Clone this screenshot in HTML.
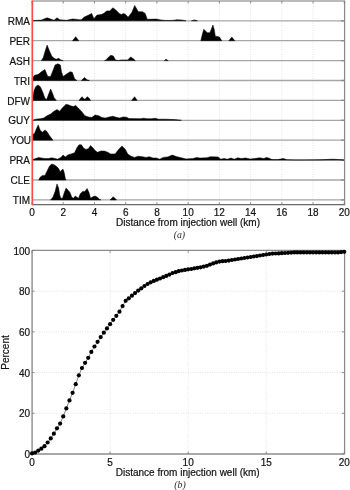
<!DOCTYPE html><html><head><meta charset="utf-8"><style>html,body{margin:0;padding:0;background:#fff;width:350px;height:490px;overflow:hidden}svg{display:block;will-change:transform}</style></head><body>
<svg width="350" height="490" viewBox="0 0 350 490">
<line x1="63.23" y1="1.0" x2="63.23" y2="204.6" stroke="#dcdcdc" stroke-width="0.8" stroke-dasharray="1 1.4"/>
<line x1="94.46" y1="1.0" x2="94.46" y2="204.6" stroke="#dcdcdc" stroke-width="0.8" stroke-dasharray="1 1.4"/>
<line x1="125.69" y1="1.0" x2="125.69" y2="204.6" stroke="#dcdcdc" stroke-width="0.8" stroke-dasharray="1 1.4"/>
<line x1="156.92" y1="1.0" x2="156.92" y2="204.6" stroke="#dcdcdc" stroke-width="0.8" stroke-dasharray="1 1.4"/>
<line x1="188.15" y1="1.0" x2="188.15" y2="204.6" stroke="#dcdcdc" stroke-width="0.8" stroke-dasharray="1 1.4"/>
<line x1="219.38" y1="1.0" x2="219.38" y2="204.6" stroke="#dcdcdc" stroke-width="0.8" stroke-dasharray="1 1.4"/>
<line x1="250.61" y1="1.0" x2="250.61" y2="204.6" stroke="#dcdcdc" stroke-width="0.8" stroke-dasharray="1 1.4"/>
<line x1="281.84" y1="1.0" x2="281.84" y2="204.6" stroke="#dcdcdc" stroke-width="0.8" stroke-dasharray="1 1.4"/>
<line x1="313.07" y1="1.0" x2="313.07" y2="204.6" stroke="#dcdcdc" stroke-width="0.8" stroke-dasharray="1 1.4"/>
<line x1="32.0" y1="20.80" x2="344.6" y2="20.80" stroke="#a6a6a6" stroke-width="1.3"/>
<line x1="341.1" y1="20.80" x2="344.6" y2="20.80" stroke="#8a8a8a" stroke-width="1.3"/>
<line x1="32.0" y1="40.70" x2="344.6" y2="40.70" stroke="#a6a6a6" stroke-width="1.3"/>
<line x1="341.1" y1="40.70" x2="344.6" y2="40.70" stroke="#8a8a8a" stroke-width="1.3"/>
<line x1="32.0" y1="60.60" x2="344.6" y2="60.60" stroke="#a6a6a6" stroke-width="1.3"/>
<line x1="341.1" y1="60.60" x2="344.6" y2="60.60" stroke="#8a8a8a" stroke-width="1.3"/>
<line x1="32.0" y1="80.50" x2="344.6" y2="80.50" stroke="#a6a6a6" stroke-width="1.3"/>
<line x1="341.1" y1="80.50" x2="344.6" y2="80.50" stroke="#8a8a8a" stroke-width="1.3"/>
<line x1="32.0" y1="100.40" x2="344.6" y2="100.40" stroke="#a6a6a6" stroke-width="1.3"/>
<line x1="341.1" y1="100.40" x2="344.6" y2="100.40" stroke="#8a8a8a" stroke-width="1.3"/>
<line x1="32.0" y1="120.30" x2="344.6" y2="120.30" stroke="#a6a6a6" stroke-width="1.3"/>
<line x1="341.1" y1="120.30" x2="344.6" y2="120.30" stroke="#8a8a8a" stroke-width="1.3"/>
<line x1="32.0" y1="140.20" x2="344.6" y2="140.20" stroke="#a6a6a6" stroke-width="1.3"/>
<line x1="341.1" y1="140.20" x2="344.6" y2="140.20" stroke="#8a8a8a" stroke-width="1.3"/>
<line x1="32.0" y1="160.10" x2="344.6" y2="160.10" stroke="#a6a6a6" stroke-width="1.3"/>
<line x1="341.1" y1="160.10" x2="344.6" y2="160.10" stroke="#8a8a8a" stroke-width="1.3"/>
<line x1="32.0" y1="180.00" x2="344.6" y2="180.00" stroke="#a6a6a6" stroke-width="1.3"/>
<line x1="341.1" y1="180.00" x2="344.6" y2="180.00" stroke="#8a8a8a" stroke-width="1.3"/>
<line x1="32.0" y1="199.90" x2="344.6" y2="199.90" stroke="#a6a6a6" stroke-width="1.3"/>
<line x1="341.1" y1="199.90" x2="344.6" y2="199.90" stroke="#8a8a8a" stroke-width="1.3"/>
<path d="M32.3,20.80 L32.3,20.80 L36.9,20.30 L41.4,20.10 L47.1,17.80 L50.6,19.00 L54.0,20.30 L57.0,17.80 L59.7,19.70 L66.6,20.30 L72.3,19.00 L75.7,19.20 L79.1,19.70 L81.2,19.70 L84.3,17.00 L88.6,15.10 L91.7,13.40 L93.9,18.70 L97.0,15.10 L101.3,14.50 L104.4,13.00 L106.5,10.90 L109.7,10.90 L112.9,7.70 L116.1,10.20 L119.2,13.40 L121.3,14.50 L123.5,13.40 L125.6,14.50 L128.1,17.20 L131.9,12.30 L134.7,5.40 L138.3,11.70 L142.5,11.70 L145.2,13.40 L147.3,19.30 L156.3,19.10 L160.9,19.90 L165.4,20.40 L172.3,20.40 L176.9,19.70 L181.4,19.90 L186.0,20.80 L186.0,20.80Z M191.5,20.80 L191.5,20.80 L194.5,19.90 L197.5,20.80 L197.5,20.80Z " fill="#000" stroke="#000" stroke-width="0.5" stroke-linejoin="round"/>
<path d="M72.5,40.70 L72.5,40.70 L75.7,36.70 L78.8,40.70 L78.8,40.70Z M200.8,40.70 L200.8,40.70 L202.2,34.70 L203.8,29.30 L205.7,31.20 L207.5,32.70 L209.8,32.70 L211.3,29.20 L212.9,25.00 L214.3,29.70 L215.3,36.20 L217.5,36.50 L219.4,36.90 L220.5,38.70 L221.8,40.70 L221.8,40.70Z M228.8,40.70 L228.8,40.70 L231.8,37.10 L234.8,40.70 L234.8,40.70Z " fill="#000" stroke="#000" stroke-width="0.5" stroke-linejoin="round"/>
<path d="M41.4,60.60 L41.4,60.60 L43.3,57.60 L44.9,51.90 L47.1,45.10 L49.4,50.80 L51.7,56.00 L54.0,58.30 L56.3,59.20 L58.6,58.30 L60.9,59.90 L63.1,60.60 L63.1,60.60Z M104.5,60.60 L104.5,60.60 L106.0,59.90 L108.7,56.90 L111.0,55.30 L113.3,56.00 L115.6,59.90 L118.6,60.60 L120.9,59.90 L127.7,59.90 L130.7,56.90 L133.4,58.80 L135.3,60.60 L135.3,60.60Z M164.3,60.60 L164.3,60.60 L165.9,59.20 L168.2,60.60 L168.2,60.60Z " fill="#000" stroke="#000" stroke-width="0.5" stroke-linejoin="round"/>
<path d="M32.3,80.50 L32.3,78.00 L32.7,77.50 L34.6,75.20 L38.0,74.60 L41.4,71.80 L44.9,69.50 L47.8,76.40 L50.6,76.40 L52.9,70.70 L55.1,65.00 L57.9,63.80 L60.4,65.00 L61.5,71.80 L63.1,76.40 L66.6,74.10 L70.0,71.80 L72.3,72.30 L74.6,78.70 L76.9,80.50 L76.9,80.50Z M81.4,80.50 L81.4,80.50 L84.4,77.50 L87.1,79.80 L89.4,80.50 L89.4,80.50Z " fill="#000" stroke="#000" stroke-width="0.5" stroke-linejoin="round"/>
<path d="M32.3,100.40 L32.3,99.40 L32.7,97.40 L34.1,90.60 L35.7,86.70 L38.0,84.90 L40.3,86.70 L42.6,91.70 L44.9,98.10 L46.5,99.70 L47.8,96.30 L50.6,89.00 L52.4,92.90 L54.0,97.40 L56.3,100.40 L56.3,100.40Z M79.1,100.40 L79.1,100.40 L80.7,98.10 L82.1,96.70 L83.9,99.00 L85.3,99.00 L87.1,96.70 L89.0,98.10 L90.6,100.40 L90.6,100.40Z M131.6,100.40 L131.6,100.40 L134.6,96.70 L137.2,100.40 L137.2,100.40Z " fill="#000" stroke="#000" stroke-width="0.5" stroke-linejoin="round"/>
<path d="M32.7,120.30 L32.7,120.30 L35.7,119.20 L40.3,118.70 L43.7,118.00 L47.1,115.70 L50.6,114.10 L54.0,111.20 L57.0,109.60 L59.7,111.20 L62.5,107.70 L66.1,104.30 L68.9,105.00 L71.1,105.90 L73.4,106.60 L75.7,105.40 L78.5,108.20 L81.4,111.20 L84.9,115.70 L88.3,116.90 L91.7,117.60 L95.1,115.00 L98.6,115.70 L102.0,117.60 L105.4,118.00 L109.4,116.90 L112.9,116.20 L116.3,117.30 L119.7,118.00 L123.1,116.90 L126.6,117.30 L128.9,118.50 L140.3,118.70 L143.7,118.20 L147.1,118.70 L151.7,118.70 L155.1,118.20 L158.6,119.20 L165.4,119.20 L174.6,119.60 L181.4,120.30 L181.4,120.30Z " fill="#000" stroke="#000" stroke-width="0.5" stroke-linejoin="round"/>
<path d="M32.3,140.20 L32.3,134.70 L32.7,134.50 L34.6,133.30 L36.4,128.80 L38.2,124.90 L40.3,130.40 L42.6,132.20 L44.9,129.90 L47.1,131.70 L49.4,135.60 L51.7,138.60 L52.9,140.20 L52.9,140.20Z " fill="#000" stroke="#000" stroke-width="0.5" stroke-linejoin="round"/>
<path d="M32.7,160.10 L32.7,159.60 L35.7,158.50 L38.7,157.40 L41.4,158.00 L44.9,158.50 L48.3,158.50 L51.7,157.80 L55.1,158.50 L57.4,159.20 L60.9,157.40 L63.1,155.10 L65.4,156.90 L67.7,155.10 L71.1,153.90 L74.6,152.80 L76.9,147.80 L79.1,144.80 L81.4,144.80 L83.7,148.20 L86.0,149.40 L88.3,148.70 L90.6,145.50 L92.9,147.80 L95.1,150.50 L97.4,152.30 L100.9,151.00 L104.3,151.00 L107.7,152.30 L110.6,153.90 L115.1,153.90 L118.6,149.40 L122.0,145.90 L125.4,149.40 L127.7,153.90 L131.1,156.20 L134.6,157.40 L138.0,156.20 L142.6,156.70 L146.0,157.40 L149.4,156.70 L152.9,158.00 L156.3,158.00 L159.7,159.20 L163.1,157.40 L167.7,156.90 L172.3,155.10 L176.9,156.70 L181.4,157.80 L186.0,158.90 L193.1,158.50 L196.6,157.40 L200.0,158.00 L206.9,157.80 L210.3,156.70 L218.3,156.90 L220.6,159.20 L224.0,158.50 L227.4,159.20 L230.9,158.00 L234.3,159.20 L237.7,157.80 L241.1,158.50 L245.7,158.00 L250.3,159.00 L254.9,158.50 L259.4,157.80 L264.0,158.50 L266.3,157.40 L268.6,158.00 L272.0,159.60 L277.7,159.60 L283.4,158.50 L286.9,159.70 L295.0,159.90 L305.1,159.90 L320.0,159.80 L332.6,159.20 L338.0,159.50 L341.7,159.80 L344.0,160.10 L344.0,160.10Z " fill="#000" stroke="#000" stroke-width="0.5" stroke-linejoin="round"/>
<path d="M38.7,180.00 L38.7,180.00 L40.3,177.00 L42.6,175.40 L44.9,175.40 L47.1,170.90 L49.4,166.30 L51.7,164.00 L54.0,164.70 L56.3,166.30 L58.6,168.60 L60.2,172.00 L61.5,170.20 L63.1,169.30 L64.3,173.10 L65.4,178.90 L66.1,180.00 L66.1,180.00Z " fill="#000" stroke="#000" stroke-width="0.5" stroke-linejoin="round"/>
<path d="M50.6,199.90 L50.6,199.90 L52.9,197.20 L55.1,191.40 L57.0,183.90 L58.6,188.00 L59.7,194.90 L60.9,198.30 L62.5,198.30 L64.3,192.60 L66.1,188.00 L67.7,189.80 L70.0,192.60 L71.8,197.20 L73.4,198.30 L75.3,196.00 L76.9,197.20 L78.5,198.30 L80.3,193.70 L82.6,191.40 L84.9,191.40 L87.1,188.50 L89.0,192.60 L90.6,198.30 L92.9,196.70 L95.1,196.00 L97.4,197.20 L99.7,199.40 L100.9,199.90 L100.9,199.90Z M110.1,199.90 L110.1,199.90 L113.3,196.70 L116.5,199.90 L116.5,199.90Z " fill="#000" stroke="#000" stroke-width="0.5" stroke-linejoin="round"/>
<line x1="32.0" y1="1.0" x2="345.20000000000005" y2="1.0" stroke="#a4a4a4" stroke-width="1.4"/>
<line x1="32.0" y1="204.6" x2="345.20000000000005" y2="204.6" stroke="#6a6a6a" stroke-width="1.3"/>
<line x1="344.6" y1="1.0" x2="344.6" y2="204.6" stroke="#8c8c8c" stroke-width="1.3"/>
<line x1="32.00" y1="204.6" x2="32.00" y2="202.1" stroke="#777" stroke-width="0.8"/>
<line x1="32.00" y1="1.0" x2="32.00" y2="3.5" stroke="#777" stroke-width="0.8"/>
<line x1="63.23" y1="204.6" x2="63.23" y2="202.1" stroke="#777" stroke-width="0.8"/>
<line x1="63.23" y1="1.0" x2="63.23" y2="3.5" stroke="#777" stroke-width="0.8"/>
<line x1="94.46" y1="204.6" x2="94.46" y2="202.1" stroke="#777" stroke-width="0.8"/>
<line x1="94.46" y1="1.0" x2="94.46" y2="3.5" stroke="#777" stroke-width="0.8"/>
<line x1="125.69" y1="204.6" x2="125.69" y2="202.1" stroke="#777" stroke-width="0.8"/>
<line x1="125.69" y1="1.0" x2="125.69" y2="3.5" stroke="#777" stroke-width="0.8"/>
<line x1="156.92" y1="204.6" x2="156.92" y2="202.1" stroke="#777" stroke-width="0.8"/>
<line x1="156.92" y1="1.0" x2="156.92" y2="3.5" stroke="#777" stroke-width="0.8"/>
<line x1="188.15" y1="204.6" x2="188.15" y2="202.1" stroke="#777" stroke-width="0.8"/>
<line x1="188.15" y1="1.0" x2="188.15" y2="3.5" stroke="#777" stroke-width="0.8"/>
<line x1="219.38" y1="204.6" x2="219.38" y2="202.1" stroke="#777" stroke-width="0.8"/>
<line x1="219.38" y1="1.0" x2="219.38" y2="3.5" stroke="#777" stroke-width="0.8"/>
<line x1="250.61" y1="204.6" x2="250.61" y2="202.1" stroke="#777" stroke-width="0.8"/>
<line x1="250.61" y1="1.0" x2="250.61" y2="3.5" stroke="#777" stroke-width="0.8"/>
<line x1="281.84" y1="204.6" x2="281.84" y2="202.1" stroke="#777" stroke-width="0.8"/>
<line x1="281.84" y1="1.0" x2="281.84" y2="3.5" stroke="#777" stroke-width="0.8"/>
<line x1="313.07" y1="204.6" x2="313.07" y2="202.1" stroke="#777" stroke-width="0.8"/>
<line x1="313.07" y1="1.0" x2="313.07" y2="3.5" stroke="#777" stroke-width="0.8"/>
<line x1="344.30" y1="204.6" x2="344.30" y2="202.1" stroke="#777" stroke-width="0.8"/>
<line x1="344.30" y1="1.0" x2="344.30" y2="3.5" stroke="#777" stroke-width="0.8"/>
<line x1="32.3" y1="0.5" x2="32.3" y2="205.2" stroke="#ff4848" stroke-width="1.7"/>
<line x1="110.08" y1="250.45" x2="110.08" y2="454.0" stroke="#dcdcdc" stroke-width="0.8" stroke-dasharray="1 1.4"/>
<line x1="188.15" y1="250.45" x2="188.15" y2="454.0" stroke="#dcdcdc" stroke-width="0.8" stroke-dasharray="1 1.4"/>
<line x1="266.23" y1="250.45" x2="266.23" y2="454.0" stroke="#dcdcdc" stroke-width="0.8" stroke-dasharray="1 1.4"/>
<line x1="32.0" y1="413.29" x2="344.3" y2="413.29" stroke="#dcdcdc" stroke-width="0.8" stroke-dasharray="1 1.4"/>
<line x1="32.0" y1="372.58" x2="344.3" y2="372.58" stroke="#dcdcdc" stroke-width="0.8" stroke-dasharray="1 1.4"/>
<line x1="32.0" y1="331.87" x2="344.3" y2="331.87" stroke="#dcdcdc" stroke-width="0.8" stroke-dasharray="1 1.4"/>
<line x1="32.0" y1="291.16" x2="344.3" y2="291.16" stroke="#dcdcdc" stroke-width="0.8" stroke-dasharray="1 1.4"/>
<line x1="32.1" y1="250.45" x2="344.6" y2="250.45" stroke="#8c8c8c" stroke-width="1.3"/>
<line x1="32.1" y1="454.0" x2="344.6" y2="454.0" stroke="#8c8c8c" stroke-width="1.4"/>
<line x1="32.1" y1="250.45" x2="32.1" y2="454.0" stroke="#9a9a9a" stroke-width="1.6"/>
<line x1="344.6" y1="250.45" x2="344.6" y2="454.0" stroke="#8c8c8c" stroke-width="1.3"/>
<line x1="32.00" y1="454.0" x2="32.00" y2="451.5" stroke="#777" stroke-width="0.8"/>
<line x1="32.00" y1="250.45" x2="32.00" y2="252.95" stroke="#777" stroke-width="0.8"/>
<line x1="110.08" y1="454.0" x2="110.08" y2="451.5" stroke="#777" stroke-width="0.8"/>
<line x1="110.08" y1="250.45" x2="110.08" y2="252.95" stroke="#777" stroke-width="0.8"/>
<line x1="188.15" y1="454.0" x2="188.15" y2="451.5" stroke="#777" stroke-width="0.8"/>
<line x1="188.15" y1="250.45" x2="188.15" y2="252.95" stroke="#777" stroke-width="0.8"/>
<line x1="266.23" y1="454.0" x2="266.23" y2="451.5" stroke="#777" stroke-width="0.8"/>
<line x1="266.23" y1="250.45" x2="266.23" y2="252.95" stroke="#777" stroke-width="0.8"/>
<line x1="344.30" y1="454.0" x2="344.30" y2="451.5" stroke="#777" stroke-width="0.8"/>
<line x1="344.30" y1="250.45" x2="344.30" y2="252.95" stroke="#777" stroke-width="0.8"/>
<line x1="32.0" y1="454.00" x2="34.5" y2="454.00" stroke="#777" stroke-width="0.8"/>
<line x1="344.3" y1="454.00" x2="341.8" y2="454.00" stroke="#777" stroke-width="0.8"/>
<line x1="32.0" y1="413.29" x2="34.5" y2="413.29" stroke="#777" stroke-width="0.8"/>
<line x1="344.3" y1="413.29" x2="341.8" y2="413.29" stroke="#777" stroke-width="0.8"/>
<line x1="32.0" y1="372.58" x2="34.5" y2="372.58" stroke="#777" stroke-width="0.8"/>
<line x1="344.3" y1="372.58" x2="341.8" y2="372.58" stroke="#777" stroke-width="0.8"/>
<line x1="32.0" y1="331.87" x2="34.5" y2="331.87" stroke="#777" stroke-width="0.8"/>
<line x1="344.3" y1="331.87" x2="341.8" y2="331.87" stroke="#777" stroke-width="0.8"/>
<line x1="32.0" y1="291.16" x2="34.5" y2="291.16" stroke="#777" stroke-width="0.8"/>
<line x1="344.3" y1="291.16" x2="341.8" y2="291.16" stroke="#777" stroke-width="0.8"/>
<line x1="32.0" y1="250.45" x2="34.5" y2="250.45" stroke="#777" stroke-width="0.8"/>
<line x1="344.3" y1="250.45" x2="341.8" y2="250.45" stroke="#777" stroke-width="0.8"/>
<polyline points="32.00,453.40 35.12,452.60 38.25,450.60 41.37,448.70 44.49,446.20 47.62,442.50 50.74,438.40 53.86,433.70 56.98,428.30 60.11,423.60 63.23,416.40 66.35,408.40 69.48,400.40 72.60,392.80 75.72,384.20 78.84,375.30 81.97,368.00 85.09,362.80 88.21,357.80 91.34,351.90 94.46,346.50 97.58,341.80 100.71,337.10 103.83,332.70 106.95,328.40 110.08,324.20 113.20,319.80 116.32,315.80 119.44,311.70 122.57,306.10 125.69,300.80 128.81,298.30 131.94,295.70 135.06,293.10 138.18,290.60 141.31,288.30 144.43,286.00 147.55,284.00 150.67,282.30 153.80,280.90 156.92,279.70 160.04,278.50 163.17,277.20 166.29,275.90 169.41,274.60 172.54,273.00 175.66,272.20 178.78,271.10 181.90,270.50 185.03,269.90 188.15,269.30 191.27,269.00 194.40,268.30 197.52,267.80 200.64,267.30 203.77,266.60 206.89,265.80 210.01,264.60 213.13,263.40 216.26,262.40 219.38,261.60 222.50,261.20 225.63,261.00 228.75,260.60 231.87,260.00 235.00,259.50 238.12,259.00 241.24,258.50 244.36,258.00 247.49,257.50 250.61,257.00 253.73,256.50 256.86,256.10 259.98,255.50 263.10,255.00 266.23,254.50 269.35,254.00 272.47,253.60 275.59,253.50 278.72,253.40 281.84,253.20 284.96,253.00 288.09,252.80 291.21,252.60 294.33,252.40 297.46,252.40 300.58,252.40 303.70,252.40 306.82,252.40 309.95,252.40 313.07,252.40 316.19,252.40 319.32,252.40 322.44,252.40 325.56,252.40 328.69,252.40 331.81,252.40 334.93,252.40 338.05,252.40 341.18,252.10 344.30,251.80" fill="none" stroke="#333" stroke-width="0.6"/>
<circle cx="32.00" cy="453.40" r="2.1" fill="#000"/>
<circle cx="35.12" cy="452.60" r="2.1" fill="#000"/>
<circle cx="38.25" cy="450.60" r="2.1" fill="#000"/>
<circle cx="41.37" cy="448.70" r="2.1" fill="#000"/>
<circle cx="44.49" cy="446.20" r="2.1" fill="#000"/>
<circle cx="47.62" cy="442.50" r="2.1" fill="#000"/>
<circle cx="50.74" cy="438.40" r="2.1" fill="#000"/>
<circle cx="53.86" cy="433.70" r="2.1" fill="#000"/>
<circle cx="56.98" cy="428.30" r="2.1" fill="#000"/>
<circle cx="60.11" cy="423.60" r="2.1" fill="#000"/>
<circle cx="63.23" cy="416.40" r="2.1" fill="#000"/>
<circle cx="66.35" cy="408.40" r="2.1" fill="#000"/>
<circle cx="69.48" cy="400.40" r="2.1" fill="#000"/>
<circle cx="72.60" cy="392.80" r="2.1" fill="#000"/>
<circle cx="75.72" cy="384.20" r="2.1" fill="#000"/>
<circle cx="78.84" cy="375.30" r="2.1" fill="#000"/>
<circle cx="81.97" cy="368.00" r="2.1" fill="#000"/>
<circle cx="85.09" cy="362.80" r="2.1" fill="#000"/>
<circle cx="88.21" cy="357.80" r="2.1" fill="#000"/>
<circle cx="91.34" cy="351.90" r="2.1" fill="#000"/>
<circle cx="94.46" cy="346.50" r="2.1" fill="#000"/>
<circle cx="97.58" cy="341.80" r="2.1" fill="#000"/>
<circle cx="100.71" cy="337.10" r="2.1" fill="#000"/>
<circle cx="103.83" cy="332.70" r="2.1" fill="#000"/>
<circle cx="106.95" cy="328.40" r="2.1" fill="#000"/>
<circle cx="110.08" cy="324.20" r="2.1" fill="#000"/>
<circle cx="113.20" cy="319.80" r="2.1" fill="#000"/>
<circle cx="116.32" cy="315.80" r="2.1" fill="#000"/>
<circle cx="119.44" cy="311.70" r="2.1" fill="#000"/>
<circle cx="122.57" cy="306.10" r="2.1" fill="#000"/>
<circle cx="125.69" cy="300.80" r="2.1" fill="#000"/>
<circle cx="128.81" cy="298.30" r="2.1" fill="#000"/>
<circle cx="131.94" cy="295.70" r="2.1" fill="#000"/>
<circle cx="135.06" cy="293.10" r="2.1" fill="#000"/>
<circle cx="138.18" cy="290.60" r="2.1" fill="#000"/>
<circle cx="141.31" cy="288.30" r="2.1" fill="#000"/>
<circle cx="144.43" cy="286.00" r="2.1" fill="#000"/>
<circle cx="147.55" cy="284.00" r="2.1" fill="#000"/>
<circle cx="150.67" cy="282.30" r="2.1" fill="#000"/>
<circle cx="153.80" cy="280.90" r="2.1" fill="#000"/>
<circle cx="156.92" cy="279.70" r="2.1" fill="#000"/>
<circle cx="160.04" cy="278.50" r="2.1" fill="#000"/>
<circle cx="163.17" cy="277.20" r="2.1" fill="#000"/>
<circle cx="166.29" cy="275.90" r="2.1" fill="#000"/>
<circle cx="169.41" cy="274.60" r="2.1" fill="#000"/>
<circle cx="172.54" cy="273.00" r="2.1" fill="#000"/>
<circle cx="175.66" cy="272.20" r="2.1" fill="#000"/>
<circle cx="178.78" cy="271.10" r="2.1" fill="#000"/>
<circle cx="181.90" cy="270.50" r="2.1" fill="#000"/>
<circle cx="185.03" cy="269.90" r="2.1" fill="#000"/>
<circle cx="188.15" cy="269.30" r="2.1" fill="#000"/>
<circle cx="191.27" cy="269.00" r="2.1" fill="#000"/>
<circle cx="194.40" cy="268.30" r="2.1" fill="#000"/>
<circle cx="197.52" cy="267.80" r="2.1" fill="#000"/>
<circle cx="200.64" cy="267.30" r="2.1" fill="#000"/>
<circle cx="203.77" cy="266.60" r="2.1" fill="#000"/>
<circle cx="206.89" cy="265.80" r="2.1" fill="#000"/>
<circle cx="210.01" cy="264.60" r="2.1" fill="#000"/>
<circle cx="213.13" cy="263.40" r="2.1" fill="#000"/>
<circle cx="216.26" cy="262.40" r="2.1" fill="#000"/>
<circle cx="219.38" cy="261.60" r="2.1" fill="#000"/>
<circle cx="222.50" cy="261.20" r="2.1" fill="#000"/>
<circle cx="225.63" cy="261.00" r="2.1" fill="#000"/>
<circle cx="228.75" cy="260.60" r="2.1" fill="#000"/>
<circle cx="231.87" cy="260.00" r="2.1" fill="#000"/>
<circle cx="235.00" cy="259.50" r="2.1" fill="#000"/>
<circle cx="238.12" cy="259.00" r="2.1" fill="#000"/>
<circle cx="241.24" cy="258.50" r="2.1" fill="#000"/>
<circle cx="244.36" cy="258.00" r="2.1" fill="#000"/>
<circle cx="247.49" cy="257.50" r="2.1" fill="#000"/>
<circle cx="250.61" cy="257.00" r="2.1" fill="#000"/>
<circle cx="253.73" cy="256.50" r="2.1" fill="#000"/>
<circle cx="256.86" cy="256.10" r="2.1" fill="#000"/>
<circle cx="259.98" cy="255.50" r="2.1" fill="#000"/>
<circle cx="263.10" cy="255.00" r="2.1" fill="#000"/>
<circle cx="266.23" cy="254.50" r="2.1" fill="#000"/>
<circle cx="269.35" cy="254.00" r="2.1" fill="#000"/>
<circle cx="272.47" cy="253.60" r="2.1" fill="#000"/>
<circle cx="275.59" cy="253.50" r="2.1" fill="#000"/>
<circle cx="278.72" cy="253.40" r="2.1" fill="#000"/>
<circle cx="281.84" cy="253.20" r="2.1" fill="#000"/>
<circle cx="284.96" cy="253.00" r="2.1" fill="#000"/>
<circle cx="288.09" cy="252.80" r="2.1" fill="#000"/>
<circle cx="291.21" cy="252.60" r="2.1" fill="#000"/>
<circle cx="294.33" cy="252.40" r="2.1" fill="#000"/>
<circle cx="297.46" cy="252.40" r="2.1" fill="#000"/>
<circle cx="300.58" cy="252.40" r="2.1" fill="#000"/>
<circle cx="303.70" cy="252.40" r="2.1" fill="#000"/>
<circle cx="306.82" cy="252.40" r="2.1" fill="#000"/>
<circle cx="309.95" cy="252.40" r="2.1" fill="#000"/>
<circle cx="313.07" cy="252.40" r="2.1" fill="#000"/>
<circle cx="316.19" cy="252.40" r="2.1" fill="#000"/>
<circle cx="319.32" cy="252.40" r="2.1" fill="#000"/>
<circle cx="322.44" cy="252.40" r="2.1" fill="#000"/>
<circle cx="325.56" cy="252.40" r="2.1" fill="#000"/>
<circle cx="328.69" cy="252.40" r="2.1" fill="#000"/>
<circle cx="331.81" cy="252.40" r="2.1" fill="#000"/>
<circle cx="334.93" cy="252.40" r="2.1" fill="#000"/>
<circle cx="338.05" cy="252.40" r="2.1" fill="#000"/>
<circle cx="341.18" cy="252.10" r="2.1" fill="#000"/>
<circle cx="344.30" cy="251.80" r="2.1" fill="#000"/>
<g stroke="#111" stroke-width="0.2"><text x="30.0" y="25" text-anchor="end" style="font-family:'Liberation Sans',sans-serif;font-size:10px" fill="#111">RMA</text><text x="30.0" y="45" text-anchor="end" style="font-family:'Liberation Sans',sans-serif;font-size:10px" fill="#111">PER</text><text x="30.0" y="65" text-anchor="end" style="font-family:'Liberation Sans',sans-serif;font-size:10px" fill="#111">ASH</text><text x="30.0" y="85" text-anchor="end" style="font-family:'Liberation Sans',sans-serif;font-size:10px" fill="#111">TRI</text><text x="30.0" y="105" text-anchor="end" style="font-family:'Liberation Sans',sans-serif;font-size:10px" fill="#111">DFW</text><text x="30.0" y="124" text-anchor="end" style="font-family:'Liberation Sans',sans-serif;font-size:10px" fill="#111">GUY</text><text x="30.7" y="144" text-anchor="end" style="font-family:'Liberation Sans',sans-serif;font-size:10px;letter-spacing:-0.3px" fill="#111">YOU</text><text x="30.0" y="164" text-anchor="end" style="font-family:'Liberation Sans',sans-serif;font-size:10px" fill="#111">PRA</text><text x="30.0" y="184" text-anchor="end" style="font-family:'Liberation Sans',sans-serif;font-size:10px" fill="#111">CLE</text><text x="30.0" y="204" text-anchor="end" style="font-family:'Liberation Sans',sans-serif;font-size:10px" fill="#111">TIM</text><text x="32.00" y="216.2" text-anchor="middle" style="font-family:'Liberation Sans',sans-serif;font-size:10px" fill="#111">0</text><text x="63.23" y="216.2" text-anchor="middle" style="font-family:'Liberation Sans',sans-serif;font-size:10px" fill="#111">2</text><text x="94.46" y="216.2" text-anchor="middle" style="font-family:'Liberation Sans',sans-serif;font-size:10px" fill="#111">4</text><text x="125.69" y="216.2" text-anchor="middle" style="font-family:'Liberation Sans',sans-serif;font-size:10px" fill="#111">6</text><text x="156.92" y="216.2" text-anchor="middle" style="font-family:'Liberation Sans',sans-serif;font-size:10px" fill="#111">8</text><text x="188.15" y="216.2" text-anchor="middle" style="font-family:'Liberation Sans',sans-serif;font-size:10px" fill="#111">10</text><text x="219.38" y="216.2" text-anchor="middle" style="font-family:'Liberation Sans',sans-serif;font-size:10px" fill="#111">12</text><text x="250.61" y="216.2" text-anchor="middle" style="font-family:'Liberation Sans',sans-serif;font-size:10px" fill="#111">14</text><text x="281.84" y="216.2" text-anchor="middle" style="font-family:'Liberation Sans',sans-serif;font-size:10px" fill="#111">16</text><text x="313.07" y="216.2" text-anchor="middle" style="font-family:'Liberation Sans',sans-serif;font-size:10px" fill="#111">18</text><text x="344.30" y="216.2" text-anchor="middle" style="font-family:'Liberation Sans',sans-serif;font-size:10px" fill="#111">20</text><text x="188.0" y="226.2" text-anchor="middle" style="font-family:'Liberation Sans',sans-serif;font-size:10px" fill="#111">Distance from injection well (km)</text><text x="179.4" y="238.4" text-anchor="middle" style="font-family:'Liberation Serif',serif;font-style:italic;font-size:9.8px" fill="#2a2a2a" stroke-width="0">(a)</text><text x="32.00" y="466.1" text-anchor="middle" style="font-family:'Liberation Sans',sans-serif;font-size:10px" fill="#111">0</text><text x="110.08" y="466.1" text-anchor="middle" style="font-family:'Liberation Sans',sans-serif;font-size:10px" fill="#111">5</text><text x="188.15" y="466.1" text-anchor="middle" style="font-family:'Liberation Sans',sans-serif;font-size:10px" fill="#111">10</text><text x="266.23" y="466.1" text-anchor="middle" style="font-family:'Liberation Sans',sans-serif;font-size:10px" fill="#111">15</text><text x="344.30" y="466.1" text-anchor="middle" style="font-family:'Liberation Sans',sans-serif;font-size:10px" fill="#111">20</text><text x="30.1" y="458.20" text-anchor="end" style="font-family:'Liberation Sans',sans-serif;font-size:10px" fill="#111">0</text><text x="30.1" y="417.49" text-anchor="end" style="font-family:'Liberation Sans',sans-serif;font-size:10px" fill="#111">20</text><text x="30.1" y="376.78" text-anchor="end" style="font-family:'Liberation Sans',sans-serif;font-size:10px" fill="#111">40</text><text x="30.1" y="336.07" text-anchor="end" style="font-family:'Liberation Sans',sans-serif;font-size:10px" fill="#111">60</text><text x="30.1" y="295.36" text-anchor="end" style="font-family:'Liberation Sans',sans-serif;font-size:10px" fill="#111">80</text><text x="30.1" y="254.65" text-anchor="end" style="font-family:'Liberation Sans',sans-serif;font-size:10px" fill="#111">100</text><text transform="translate(9.4,352.5) rotate(-90)" text-anchor="middle" style="font-family:'Liberation Sans',sans-serif;font-size:10px" fill="#111">Percent</text><text x="187.7" y="476" text-anchor="middle" style="font-family:'Liberation Sans',sans-serif;font-size:10px" fill="#111">Distance from injection well (km)</text><text x="180" y="488.4" text-anchor="middle" style="font-family:'Liberation Serif',serif;font-style:italic;font-size:9.8px" fill="#2a2a2a" stroke-width="0">(b)</text></g>
</svg></body></html>
